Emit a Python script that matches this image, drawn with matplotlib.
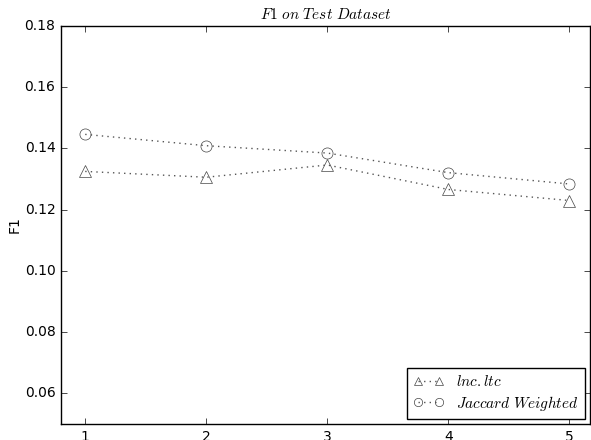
import matplotlib
matplotlib.use('Agg')
import matplotlib.pyplot as plt

plt.style.use('classic')

steps = [1, 2, 3, 4, 5]
lnc_ltc = [0.1325, 0.1306, 0.1346, 0.1266, 0.1230]
jaccard_weighted = [0.1446, 0.1409, 0.1385, 0.1321, 0.1284]

fig = plt.figure(figsize=(5.91, 4.40), dpi=100)
fig.patch.set_facecolor('white')
# axes box: left spine ~61px, right ~590px, top ~26px, bottom ~424px
ax = fig.add_axes([61/591, 16/440, 529/591, 398/440])

ax.plot(steps, lnc_ltc, linestyle=':', color='#555555', marker='^',
        markersize=8, markerfacecolor='none', markeredgecolor='#444444',
        label='$lnc.ltc$')
ax.plot(steps, jaccard_weighted, linestyle=':', color='#555555', marker='o',
        markersize=8, markerfacecolor='none', markeredgecolor='#444444',
        label='$Jaccard\\ Weighted$')

ax.set_xlim(0.8, 5.17)
ax.set_ylim(0.05, 0.18)
ax.set_xticks(steps)
ax.set_yticks([0.06, 0.08, 0.10, 0.12, 0.14, 0.16, 0.18])
ax.tick_params(labelsize=10)
ax.tick_params(axis='x', pad=4)
ax.set_ylabel('F1', fontsize=10, labelpad=2)
ax.set_title('$F1\\ on\\ Test\\ Dataset$', fontsize=11)
ax.legend(loc='lower right', fontsize=11, numpoints=2, markerscale=0.75,
          labelspacing=0.3, borderaxespad=0.35)

fig.savefig('out.png', dpi=100, facecolor='white')
